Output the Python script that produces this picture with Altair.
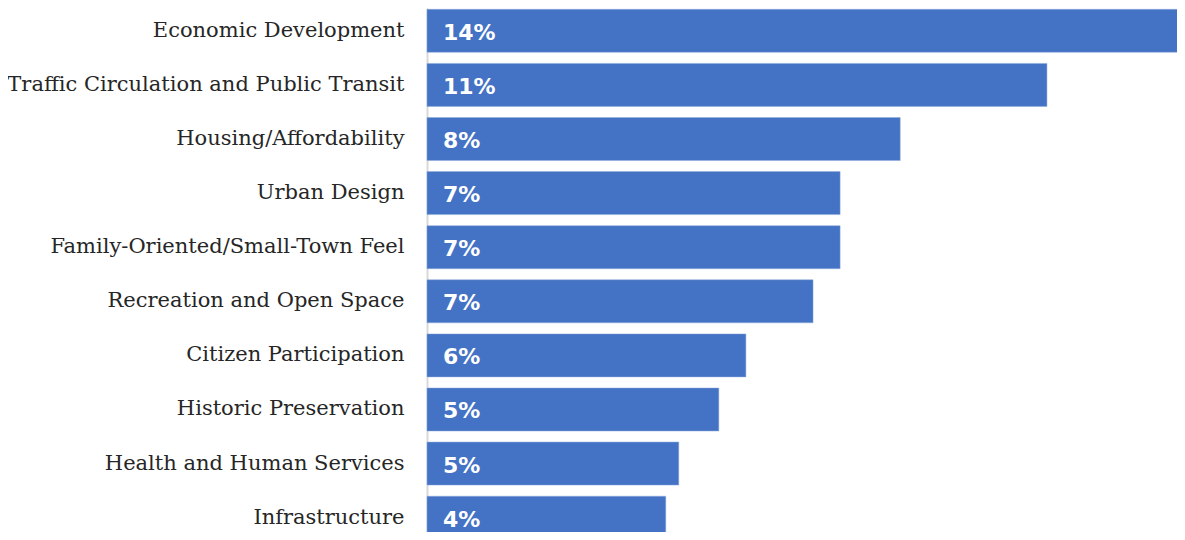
import altair as alt
import pandas as pd

categories = [
    "Economic Development",
    "Traffic Circulation and Public Transit",
    "Housing/Affordability",
    "Urban Design",
    "Family-Oriented/Small-Town Feel",
    "Recreation and Open Space",
    "Citizen Participation",
    "Historic Preservation",
    "Health and Human Services",
    "Infrastructure",
]
values = [14.0, 11.45, 8.74, 7.63, 7.63, 7.13, 5.89, 5.39, 4.65, 4.41]
labels = ["14%", "11%", "8%", "7%", "7%", "7%", "6%", "5%", "5%", "4%"]

df = pd.DataFrame({"category": categories, "value": values, "label": labels})

y_enc = alt.Y(
    "category:N",
    sort=categories,
    scale=alt.Scale(paddingInner=0.205, paddingOuter=0.024, range=[0, 532.5]),
    axis=alt.Axis(
        title=None,
        ticks=False,
        domain=True,
        domainColor="#d9d9d9",
        domainWidth=2,
        labelFont="DejaVu Serif",
        labelFontSize=21,
        labelColor="#262626",
        labelPadding=23,
        labelLimit=500,
    ),
)

bars = alt.Chart(df).mark_bar(color="#4472C4", stroke="#8faadc", strokeWidth=0.5).encode(
    x=alt.X("value:Q", scale=alt.Scale(domain=[0, 13.852], nice=False, zero=True), axis=None),
    y=y_enc,
)

text = alt.Chart(df).mark_text(
    align="left",
    baseline="middle",
    dx=16,
    dy=2,
    color="white",
    font="DejaVu Sans",
    fontWeight="bold",
    fontSize=22,
).encode(
    x=alt.value(0),
    y=alt.Y("category:N", sort=categories),
    text="label:N",
)

chart = (
    alt.layer(bars, text)
    .properties(
        width=750,
        height=524,
        autosize=alt.AutoSizeParams(type="none"),
        padding={"left": 419, "top": 0, "right": 0, "bottom": 0},
    )
    .configure_view(stroke=None)
)

chart.save("out.html", embed_options={"renderer": "svg", "actions": False})
